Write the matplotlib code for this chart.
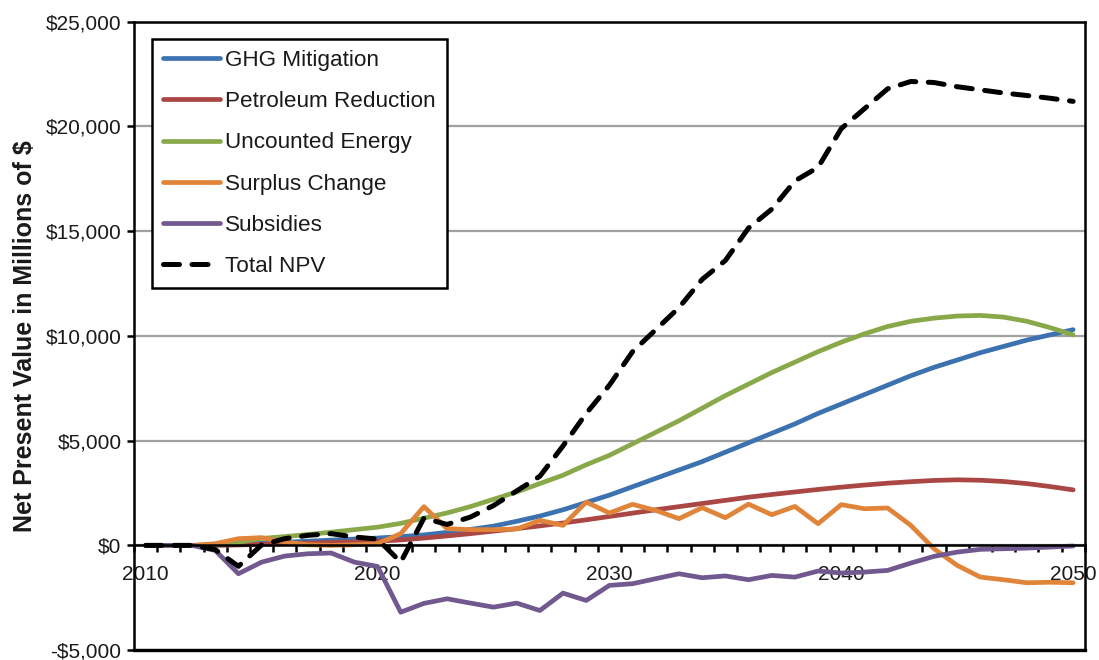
import numpy as np
import matplotlib
matplotlib.use('Agg')
import matplotlib.pyplot as plt
from matplotlib.ticker import FuncFormatter

plt.rcParams['font.family'] = ['Liberation Sans', 'DejaVu Sans']

years = np.arange(2010, 2051)
ghg_mitigation = [0, 0, 0, 20, 50, 100, 150, 200, 250, 300,
                  350, 420, 500, 620, 760, 920, 1150, 1400, 1700, 2050,
                  2400, 2800, 3200, 3600, 4000, 4450, 4900, 5350, 5800, 6300,
                  6750, 7200, 7650, 8100, 8500, 8850, 9200, 9500, 9800, 10050,
                  10300]
petroleum_reduction = [0, 0, 0, 0, 20, 50, 80, 110, 140, 170,
                       200, 260, 350, 450, 560, 680, 800, 930, 1070, 1220,
                       1380, 1540, 1700, 1850, 2000, 2150, 2300, 2430, 2550, 2670,
                       2780, 2880, 2970, 3040, 3100, 3130, 3110, 3050, 2950, 2810,
                       2650]
uncounted_energy = [0, 0, 0, 0, 150, 330, 420, 520, 630, 750,
                    870, 1050, 1300, 1550, 1850, 2200, 2550, 2950, 3350, 3850,
                    4300, 4850, 5400, 5950, 6550, 7150, 7700, 8250, 8750, 9250,
                    9700, 10100, 10450, 10700, 10850, 10950, 10980, 10900, 10700, 10400,
                    10050]
surplus_change = [0, 0, 0, 80, 320, 370, 160, 30, 0, 30,
                  80, 560, 1850, 800, 750, 750, 780, 1195, 955, 2070,
                  1545, 1960, 1670, 1275, 1800, 1320, 1970, 1465, 1860, 1035,
                  1945, 1750, 1785, 955, -160, -955, -1515, -1640, -1785, -1760,
                  -1785]
subsidies = [0, 0, 0, -240, -1355, -800, -510, -400, -365, -800,
             -1005, -3190, -2770, -2550, -2755, -2950, -2755, -3110, -2280, -2630,
             -1910, -1830, -1590, -1355, -1545, -1460, -1640, -1435, -1515, -1225,
             -1320, -1275, -1195, -845, -525, -320, -190, -160, -130, -80,
             -30]
total_npv = [0, 0, 0, -200, -1000, 20, 320, 480, 560, 400,
             300, -800, 1300, 1000, 1350, 1900, 2600, 3300, 4750, 6300,
             7650, 9250, 10300, 11350, 12700, 13600, 15150, 16050, 17400, 18050,
             19900, 20850, 21800, 22150, 22100, 21900, 21750, 21600, 21480, 21350,
             21200]

series = [
    ("GHG Mitigation", ghg_mitigation, '#3D72B0'),
    ("Petroleum Reduction", petroleum_reduction, '#AA4643'),
    ("Uncounted Energy", uncounted_energy, '#89A84A'),
    ("Surplus Change", surplus_change, '#E0843A'),
    ("Subsidies", subsidies, '#71588F'),
]

txt = '#1a1a1a'
fig = plt.figure(figsize=(10.99, 6.6), dpi=100)
ax = fig.add_axes([0.122, 0.015, 0.865, 0.952])

for name, vals, col in series:
    ax.plot(years, vals, color=col, lw=3.4, label=name, solid_capstyle='round')
ax.plot(years, total_npv, color='black', lw=3.6, dashes=(3.2, 2.5),
        dash_capstyle='round', label='Total NPV')

ax.set_xlim(2009.5, 2050.5)
ax.set_ylim(-5000, 25000)
ax.set_yticks(np.arange(-5000, 25001, 5000))
ax.yaxis.set_major_formatter(FuncFormatter(
    lambda v, p: ('-\\$' if v < 0 else '\\$') + f"{abs(int(v)):,}"))
ax.grid(axis='y', color='#A0A0A0', lw=1.6)
ax.set_axisbelow(True)

# x axis sits at zero, ticks between categories
ax.spines['bottom'].set_position(('data', 0))
ax.set_xticks([2010, 2020, 2030, 2040, 2050])
ax.set_xticks(np.arange(2009.5, 2051, 1), minor=True)
ax.tick_params(axis='x', which='major', length=0, pad=14, labelsize=15, labelcolor=txt)
ax.tick_params(axis='x', which='minor', length=5, width=1.8, direction='out')
ax.tick_params(axis='y', length=5, width=1.8, labelsize=15, labelcolor=txt, pad=4)
ax.axhline(-5000, color='black', lw=2.4, clip_on=False)
for s in ['left', 'right', 'top', 'bottom']:
    ax.spines[s].set_linewidth(1.8)

ax.set_ylabel('Net Present Value in Millions of $'.replace('$', '\\$'),
              fontsize=18, fontweight='bold', color=txt, labelpad=6)

leg = ax.legend(loc='upper left', bbox_to_anchor=(0.019, 0.973), borderaxespad=0,
                fancybox=False, edgecolor='black', framealpha=1, fontsize=16.2,
                handlelength=2.5, handletextpad=0.25, labelspacing=0.9,
                borderpad=0.5)
leg.get_frame().set_linewidth(1.8)
for t in leg.get_texts():
    t.set_color(txt)

fig.savefig('out.png', dpi=100)
